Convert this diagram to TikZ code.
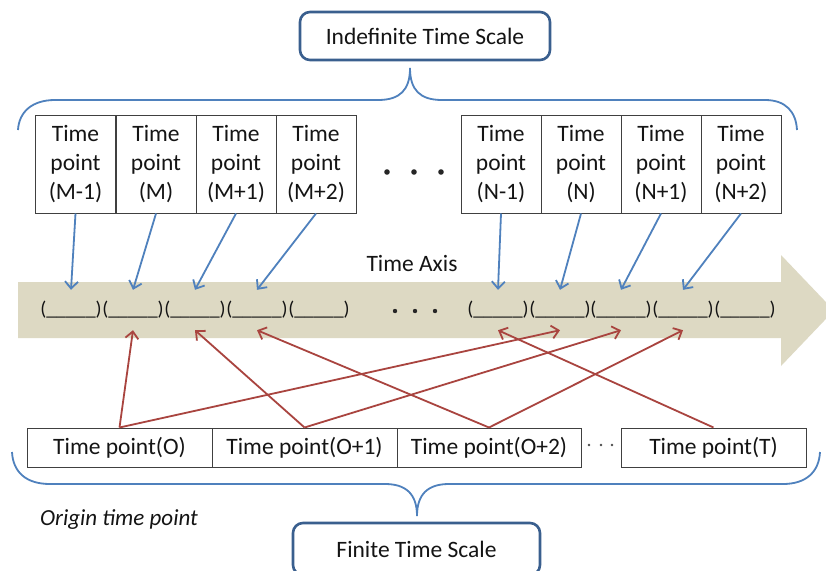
\documentclass[tikz,border=0pt]{standalone}
\usepackage{fontspec}
\setmainfont{Carlito}
\usetikzlibrary{arrows.meta}
\definecolor{beige}{HTML}{DDD9C3}
\definecolor{bblue}{HTML}{4F81BD}
\definecolor{rred}{HTML}{A9443F}
\definecolor{dblue}{HTML}{3A5F8E}
\begin{document}
\begin{tikzpicture}[x=1pt,y=-1pt,
  tp/.style={draw=black!75, line width=1pt, minimum width=80pt, minimum height=98pt, inner sep=0pt, align=center, text=black!92, font=\fontsize{23.5}{29}\selectfont},
  bp/.style={draw=black!75, line width=1pt, minimum height=39pt, inner sep=0pt, text=black!92, font=\fontsize{23.5}{28}\selectfont},
  slot/.style={minimum width=62pt, minimum height=40pt, inner sep=0pt, text=black!92, font=\fontsize{19.8}{24}\selectfont},
  scalebox/.style={draw=dblue, line width=2.6pt, rounded corners=10pt, fill=white, inner sep=0pt, text=black!92, font=\fontsize{23.5}{28}\selectfont},
  barr/.style={bblue, line width=1.8pt, -{Straight Barb[length=7pt,width=13pt]}},
  rarr/.style={rred, line width=1.8pt, -{Straight Barb[length=7pt,width=13pt]}},
  brace/.style={bblue, line width=1.8pt},
  lbl/.style={inner sep=0pt, text=black!92, font=\fontsize{23.5}{28}\selectfont}
]
\clip (0,0) rectangle (826,570);
\fill[white] (0,0) rectangle (826,570);

% time axis band
\fill[beige] (18,282) -- (781,282) -- (781,255) -- (834,310.5) -- (781,366) -- (781,338) -- (18,338) -- cycle;
\node[lbl] (axis) at (412,263) {Time Axis};

% slots
\foreach \i/\x in {1/71,2/133,3/195,4/257,5/319}{
  \node[slot] (s\i) at (\x,310) {(\_\_\_\_\_)};
}
\foreach \i/\x in {1/498,2/560,3/621,4/683,5/745}{
  \node[slot] (r\i) at (\x,310) {(\_\_\_\_\_)};
}
\fill[black!85] (395,311) circle (2.2) (415,311) circle (2.2) (435,311) circle (2.2);

% top boxes
\node[tp] (m1) at (75.5,164) {Time\\point\\(M-1)};
\node[tp] (m2) at (156,164) {Time\\point\\(M)};
\node[tp] (m3) at (236,164) {Time\\point\\(M+1)};
\node[tp] (m4) at (316,164) {Time\\point\\(M+2)};
\node[tp] (n1) at (501,164) {Time\\point\\(N-1)};
\node[tp] (n2) at (581,164) {Time\\point\\(N)};
\node[tp] (n3) at (661,164) {Time\\point\\(N+1)};
\node[tp] (n4) at (741,164) {Time\\point\\(N+2)};
\fill[black!85] (387,172) circle (2.8) (414,172) circle (2.8) (441,172) circle (2.8);

% blue arrows
\draw[barr] (m1.south) -- (s1.north);
\draw[barr] (m2.south) -- (s2.north);
\draw[barr] (m3.south) -- (s3.north);
\draw[barr] (m4.south) -- (s4.north);
\draw[barr] (n1.south) -- (r1.north);
\draw[barr] (n2.south) -- (r2.north);
\draw[barr] (n3.south) -- (r3.north);
\draw[barr] (n4.south) -- (r4.north);

% bottom boxes
\node[bp, minimum width=185pt] (o0) at (119.5,447.5) {Time point(O)};
\node[bp, minimum width=185pt] (o1) at (304.5,447.5) {Time point(O+1)};
\node[bp, minimum width=184pt] (o2) at (489,447.5) {Time point(O+2)};
\node[bp, minimum width=185pt] (ot) at (713.5,447.5) {Time point(T)};
\fill[black!70] (589,445) circle (1.3) (601,445) circle (1.3) (612,445) circle (1.3);

% red arrows
\draw[rarr] (o0.north) -- (s2.south);
\draw[rarr] (o0.north) -- (r2.south);
\draw[rarr] (o1.north) -- (s3.south);
\draw[rarr] (o1.north) -- (r3.south);
\draw[rarr] (o2.north) -- (s4.south);
\draw[rarr] (o2.north) -- (r4.south);
\draw[rarr] (ot.north) -- (r1.south);

% braces
\draw[brace] (18,130) .. controls (19,112) and (32,100) .. (55,100) -- (378,100)
  .. controls (400,100) and (410,90) .. (410,68)
  .. controls (410,90) and (420,100) .. (442,100) -- (765,100)
  .. controls (786,100) and (796,112) .. (797,130);
\draw[brace] (12,452) .. controls (13,472) and (26,484) .. (50,484) -- (385,484)
  .. controls (406,484) and (417,494) .. (417,516)
  .. controls (417,494) and (428,484) .. (449,484) -- (783,484)
  .. controls (806,484) and (819,472) .. (820,452);

% scale boxes
\node[scalebox, minimum width=250pt, minimum height=48pt] (indef) at (425,36) {Indefinite Time Scale};
\node[scalebox, minimum width=247pt, minimum height=52pt] (finite) at (416.5,549) {Finite Time Scale};

\node[lbl, font=\fontsize{23}{28}\selectfont\itshape] (origin) at (119,520) {Origin time point};
\end{tikzpicture}
\end{document}
